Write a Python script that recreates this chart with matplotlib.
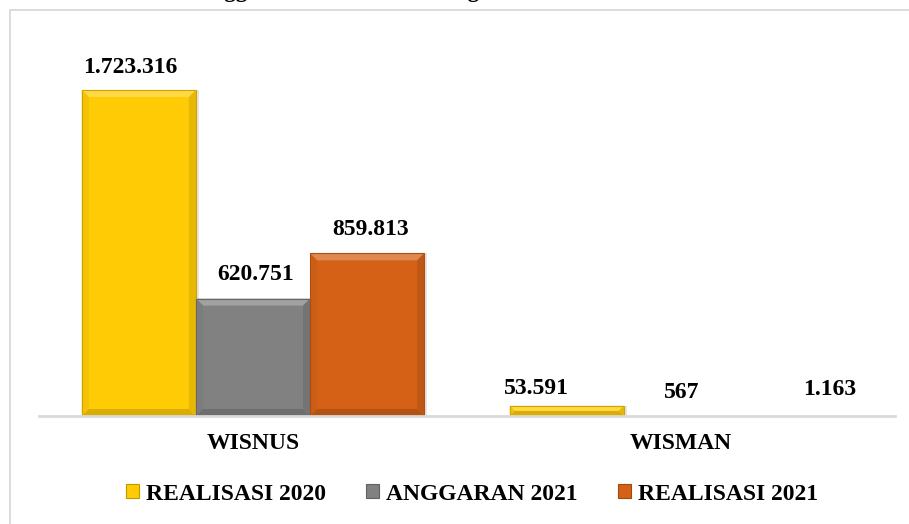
import numpy as np
import matplotlib
matplotlib.use("Agg")
import matplotlib.pyplot as plt
import matplotlib.colors as mcolors
from matplotlib.patches import Polygon, Patch
from matplotlib.lines import Line2D

# data
categories = ["WISNUS", "WISMAN"]
series_names = ["REALISASI 2020", "ANGGARAN 2021", "REALISASI 2021"]
realisasi_2020 = [1723316, 53591]
anggaran_2021 = [620751, 567]
realisasi_2021 = [859813, 1163]
value_labels = [["1.723.316", "53.591"], ["620.751", "567"], ["859.813", "1.163"]]
colors = ["#FFCB05", "#818181", "#D46116"]

plt.rcParams["font.family"] = ["Liberation Serif", "DejaVu Serif"]
plt.rcParams["font.weight"] = "bold"

W, H = 909, 524
fig = plt.figure(figsize=(W / 100, H / 100), dpi=100)

# light frame (left + top only, rest cut off)
fig.add_artist(Line2D([9.5 / W, 9.5 / W], [0, 1 - 9.5 / H], color="#D9D9D9", lw=1.3))
fig.add_artist(Line2D([9.5 / W, 1], [1 - 9.5 / H, 1 - 9.5 / H], color="#D9D9D9", lw=1.3))

# title, cut off at the top edge (only descenders show)
fig.text(195 / W, 1 + 3.5 / H, "Anggaran dan Realisasi Pergerakan Wisatawan",
         fontsize=16.5, fontweight="bold", ha="left", va="baseline")

ax = fig.add_axes([39 / W, 108 / H, 856 / W, 386 / H])
ax.set_xlim(-0.5, 1.5)
ax.set_ylim(0, 2040800)

x = np.arange(len(categories))
bw = 0.8 / 3
all_series = [realisasi_2020, anggaran_2021, realisasi_2021]

# pixels -> data units
px_x = 2.0 / 856
px_y = 2040800 / 386


def mix(c, other, t):
    a = np.array(mcolors.to_rgb(c))
    b = np.array(mcolors.to_rgb(other))
    return tuple(a * (1 - t) + b * t)


def bevel(rect, c, size=7):
    x0, y0 = rect.get_x(), rect.get_y()
    x1, y1 = x0 + rect.get_width(), y0 + rect.get_height()
    h = rect.get_height()
    if h < 2 * px_y:
        return
    by = min(size * px_y, h / 2)
    bx = size * px_x * by / (size * px_y)
    top = [(x0, y1), (x1, y1), (x1 - bx, y1 - by), (x0 + bx, y1 - by)]
    left = [(x0, y0), (x0, y1), (x0 + bx, y1 - by), (x0 + bx, y0 + by)]
    right = [(x1, y0), (x1, y1), (x1 - bx, y1 - by), (x1 - bx, y0 + by)]
    bot = [(x0, y0), (x1, y0), (x1 - bx, y0 + by), (x0 + bx, y0 + by)]
    ax.add_patch(Polygon(top, closed=True, color=mix(c, "white", 0.25), lw=0, zorder=3))
    ax.add_patch(Polygon(left, closed=True, color=mix(c, "black", 0.04), lw=0, zorder=3))
    ax.add_patch(Polygon(right, closed=True, color=mix(c, "black", 0.1), lw=0, zorder=3))
    ax.add_patch(Polygon(bot, closed=True, color=mix(c, "black", 0.15), lw=0, zorder=3))
    ax.add_patch(Polygon([(x0, y0), (x0, y1), (x1, y1), (x1, y0)], closed=True, fill=False,
                         edgecolor=mix(c, "black", 0.2), lw=0.8, zorder=4))


# label offsets in pixels (hand-placed in the original)
offsets = [[(-9, 23), (-30, 17)], [(3, 24), (1, 23)], [(3, 24), (35, 26)]]

for i, vals in enumerate(all_series):
    pos = x + (i - 1) * bw
    bars = ax.bar(pos, vals, width=bw, color=colors[i], zorder=2, lw=0)
    # soft shadow on the right
    ax.bar(pos + 3 * px_x, vals, width=bw, color="#000000", alpha=0.1, zorder=1, lw=0)
    for j, r in enumerate(bars):
        bevel(r, colors[i])
        ax.annotate(value_labels[i][j], (pos[j], vals[j]),
                    xytext=offsets[i][j], textcoords="offset pixels",
                    ha="center", va="center", fontsize=17, fontweight="bold")

ax.set_xticks(x)
ax.set_xticklabels(categories, fontsize=17, fontweight="bold")
ax.tick_params(axis="x", length=0, pad=12)
ax.set_yticks([])
for s in ["top", "right", "left"]:
    ax.spines[s].set_visible(False)
ax.spines["bottom"].set_color("#D9D9D9")
ax.spines["bottom"].set_linewidth(2)
ax.spines["bottom"].set_zorder(5)

handles = [Patch(facecolor=c, edgecolor=mix(c, "black", 0.25), lw=0.8) for c in colors]
fig.legend(handles, series_names, loc="center", bbox_to_anchor=(472 / W, 30 / H),
           ncol=3, frameon=False, prop={"size": 17, "weight": "bold"},
           handlelength=0.55, handleheight=0.55, handletextpad=0.3, columnspacing=1.7)

fig.savefig("out.png", dpi=100)
